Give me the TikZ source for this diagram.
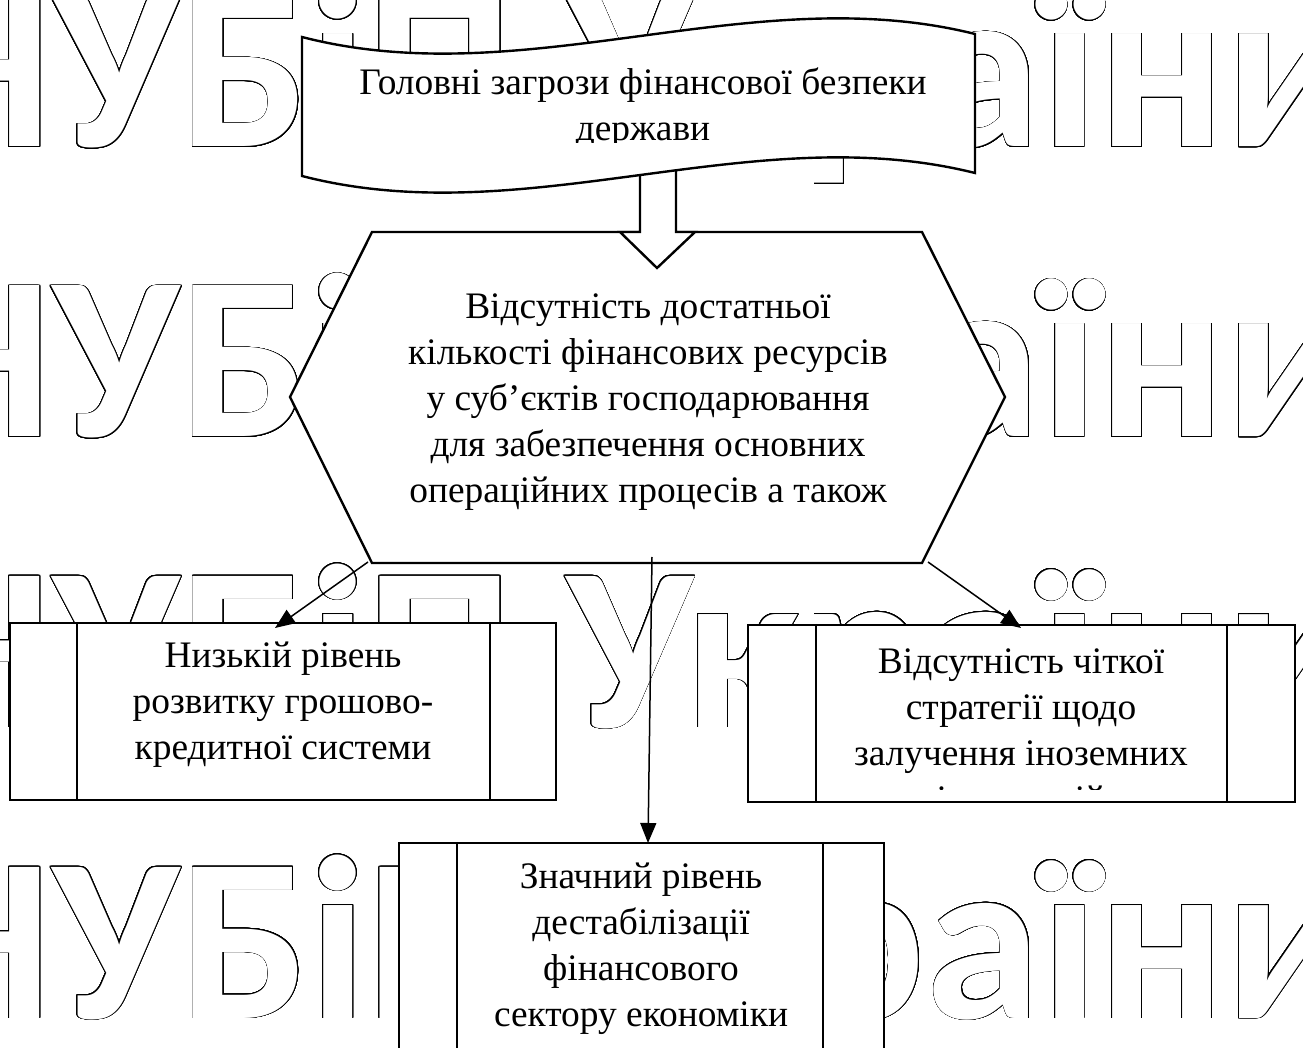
\documentclass[tikz,border=0pt]{standalone}
\usepackage{fontspec}
\setmainfont{Liberation Serif}
\newfontfamily\wmfont{Carlito}
\usepackage{contour}
\contourlength{0.4pt}
\contournumber{32}
\usetikzlibrary{arrows.meta}
\begin{document}
\begin{tikzpicture}[x=0.5pt,y=-0.5pt,
  wm/.style={anchor=base west, inner sep=0, text=white,
    font=\wmfont\bfseries\fontsize{116.5}{120}\selectfont},
  shp/.style={draw=black, fill=white, line width=1.2pt, line join=miter},
  procbox/.style={shp, rectangle, inner sep=0, minimum height=88.5pt},
  lbl/.style={align=center, inner sep=0, font=\fontsize{18.7}{23}\selectfont},
  conn/.style={draw=black, line width=0.75pt, -{Triangle[length=10pt,width=8pt]}},
  ]
\useasboundingbox (0,0) rectangle (1303,1048);
% watermark
\foreach \i/\y in {1/147, 2/437, 3/727, 4/1018}
  \node[wm] (wm\i) at (-95,\y) {\contour{black}{НУБіП України}};

% hexagon
\draw[shp] (372,232) -- (922,232) -- (1005,397) -- (922,563) -- (372,563) -- (290,397) -- cycle;
\node[lbl] (hext) at (648,402) {Відсутність достатньої\\кількості фінансових ресурсів\\у суб’єктів господарювання\\для забезпечення основних\\операційних процесів а також};
\coordinate (hexbl) at (368,562);
\coordinate (hexbr) at (928,562);
\coordinate (hexbm) at (652,557);

% block arrow
\draw[shp] (640,150) -- (640,232) -- (620,232) -- (657,268) -- (695,232) -- (676,232) -- (676,150);

% banner
\draw[shp] (302,37) .. controls (526,95) and (751,-22) .. (975,34)
  -- (975,173) .. controls (751,117) and (526,234) .. (302,176) -- cycle;
\begin{scope}
  \clip (300,40) rectangle (980,143);
  \node[lbl] (bant) at (643,108) {Головні загрози фінансової безпеки\\держави};
\end{scope}

% left box
\node[procbox, minimum width=273pt] (lb) at (283,711.5) {};
\draw[shp] ([xshift=34pt]lb.north west) -- ([xshift=34pt]lb.south west);
\draw[shp] ([xshift=-33.5pt]lb.north east) -- ([xshift=-33.5pt]lb.south east);
\node[lbl] (lbt) at (283,705) {Низькій рівень\\розвитку грошово-\\кредитної системи};

% right box
\node[procbox, minimum width=273.5pt] (rb) at (1021.5,713.5) {};
\draw[shp] ([xshift=34.5pt]rb.north west) -- ([xshift=34.5pt]rb.south west);
\draw[shp] ([xshift=-34.5pt]rb.north east) -- ([xshift=-34.5pt]rb.south east);
\begin{scope}
  \clip (750,627) rectangle (1293,789);
  \node[lbl] (rbt) at (1021,734) {Відсутність чіткої\\стратегії щодо\\залучення іноземних\\інвестицій};
\end{scope}

% bottom box
\node[procbox, minimum width=242.5pt, minimum height=111pt] (bb) at (641.5,954) {};
\draw[shp] ([xshift=29.5pt]bb.north west) -- ([xshift=29.5pt]bb.south west);
\draw[shp] ([xshift=-31pt]bb.north east) -- ([xshift=-31pt]bb.south east);
\node[lbl] (bbt) at (641,949) {Значний рівень\\дестабілізації\\фінансового\\сектору економіки};

% connectors
\coordinate (lbtip) at (275,628);
\coordinate (rbtip) at (1021,628);
\coordinate (bbtip) at (648,843);
\draw[conn] (hexbl) -- (lbtip);
\draw[conn] (hexbr) -- (rbtip);
\draw[conn] (hexbm) -- (bbtip);
\end{tikzpicture}
\end{document}
